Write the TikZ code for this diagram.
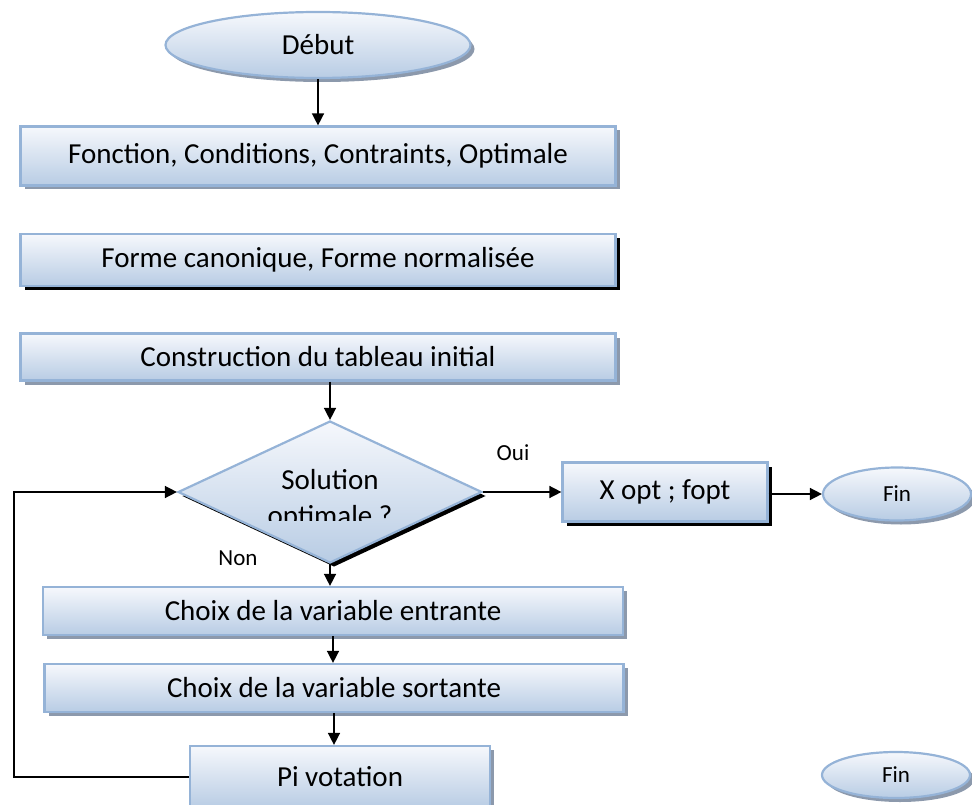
\documentclass[tikz,border=0pt]{standalone}
\usepackage{fontspec}
\setmainfont{Carlito}
\usetikzlibrary{shapes.geometric,shadows,arrows.meta}

\definecolor{boxline}{RGB}{149,179,215}
\definecolor{boxtop}{RGB}{246,248,252}
\definecolor{boxbot}{RGB}{184,204,228}
\definecolor{shadowgrey}{RGB}{140,153,172}

\tikzset{
    stepbox/.style={rectangle, draw=boxline, line width=2.2pt, top color=boxtop, bottom color=boxbot, inner sep=0pt, font=\fontsize{29}{34}\selectfont},
    endbox/.style={stepbox, ellipse},
    greyshadow/.style={drop shadow={shadow xshift=4pt, shadow yshift=-4pt, fill=shadowgrey, opacity=1}},
    blackshadow/.style={drop shadow={shadow xshift=4pt, shadow yshift=-4pt, fill=black, opacity=1}},
    flow/.style={line width=1.5pt, -{Triangle[length=12pt,width=12pt]}},
    answer/.style={font=\fontsize{23}{27}\selectfont},
}

\begin{document}
\begin{tikzpicture}[x=1pt, y=-1pt]
    \useasboundingbox (0,0) rectangle (972,805);
    \clip (0,0) rectangle (972,805);

    \node[endbox, greyshadow, minimum width=305pt, minimum height=66pt] (debut) at (318,45) {Début};
    \node[stepbox, greyshadow, minimum width=595pt, minimum height=59pt] (fonc) at (318,156) {Fonction, Conditions, Contraints, Optimale};
    \node[stepbox, blackshadow, minimum width=595pt, minimum height=52pt] (forme) at (318,260) {Forme canonique, Forme normalisée};
    \node[stepbox, greyshadow, minimum width=595pt, minimum height=47pt] (constr) at (318,357) {Construction du tableau initial};

    \node[stepbox, blackshadow, diamond, aspect=2.14, minimum width=304pt, minimum height=142pt] (sol) at (330,492) {};
    \node[anchor=base, font=\fontsize{29}{34}\selectfont] (soltop) at (330,489) {Solution};
    \begin{scope}
        \clip (180,440) rectangle (483,520);
        \node[anchor=base, font=\fontsize{29}{34}\selectfont] (solbot) at (330,525) {optimale ?};
    \end{scope}

    \node[stepbox, blackshadow, minimum width=205pt, minimum height=59pt] (xopt) at (665,492) {X opt ; fopt};
    \node[endbox, greyshadow, minimum width=148pt, minimum height=53pt, font=\fontsize{23}{27}\selectfont] (fin) at (897,494) {Fin};

    \node[stepbox, greyshadow, minimum width=580pt, minimum height=48pt] (entr) at (333,611) {Choix de la variable entrante};
    \node[stepbox, greyshadow, minimum width=579pt, minimum height=48pt] (sort) at (334,688) {Choix de la variable sortante};
    \node[stepbox, greyshadow, minimum width=300pt, minimum height=62pt] (pivot) at (340,777) {Pi votation};
    \node[endbox, greyshadow, minimum width=148pt, minimum height=46pt, font=\fontsize{23}{27}\selectfont] (fintwo) at (896,775) {Fin};

    \node[answer] (oui) at (513,453) {Oui};
    \node[answer] (non) at (238,558) {Non};

    \draw[flow] (debut.south) -- (fonc.north);
    \draw[flow] (constr.south -| sol.north) -- (sol.north);
    \draw[flow] (sol.east) -- (xopt.west);
    \draw[flow] (xopt.east |- fin.west) -- (fin.west);
    \draw[flow] (sol.south) -- (sol.south |- entr.north);
    \draw[flow] (entr.south) -- (entr.south |- sort.north);
    \draw[flow] (sort.south) -- (sort.south |- pivot.north);

    % retour vers le test
    \coordinate (back) at (14,777);
    \draw[flow] (pivot.west) -- (back) |- (sol.west);
\end{tikzpicture}
\end{document}
